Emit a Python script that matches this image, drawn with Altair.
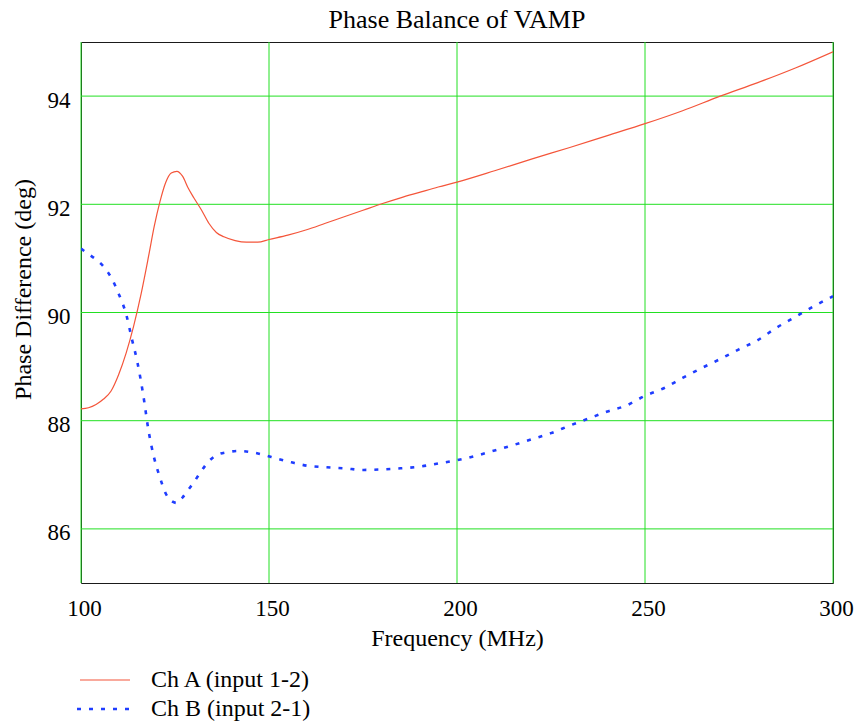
import altair as alt
import pandas as pd

# Channel A phase difference (input 1-2), degrees vs MHz
freq_a = [100, 102, 104, 106, 108, 110, 112, 114, 116, 118, 119.5, 121, 122.5, 124,
          125.5, 127, 128.5, 130, 132, 134, 136, 138, 141, 144, 147, 150, 155, 160,
          165, 170, 175, 180, 185, 190, 195, 200, 210, 220, 230, 240, 250, 260, 270,
          280, 290, 300]
phase_a = [88.22, 88.24, 88.30, 88.40, 88.55, 88.85, 89.25, 89.75, 90.35, 91.05, 91.60,
           92.05, 92.40, 92.58, 92.61, 92.52, 92.30, 92.12, 91.90, 91.65, 91.48, 91.40,
           91.33, 91.30, 91.30, 91.35, 91.43, 91.53, 91.65, 91.77, 91.89, 92.01, 92.12,
           92.22, 92.32, 92.41, 92.62, 92.84, 93.05, 93.27, 93.49, 93.73, 94.00, 94.25,
           94.52, 94.82]

# Channel B phase difference (input 2-1)
freq_b = [100, 102, 104, 106, 108, 110, 112, 113.5, 115, 116.5, 118, 119.5, 121, 122.5,
          124, 125.5, 127, 128.5, 130, 132, 134, 136, 139, 142, 146, 149, 152, 156, 160,
          165, 170, 175, 180, 185, 190, 195, 200, 205, 210, 215, 220, 225, 230, 235, 240,
          245, 250, 255, 260, 265, 270, 275, 280, 285, 290, 295, 300]
phase_b = [91.18, 91.08, 90.98, 90.85, 90.65, 90.35, 89.97, 89.52, 89.08, 88.50, 87.80,
           87.30, 86.95, 86.66, 86.52, 86.48, 86.58, 86.72, 86.86, 87.07, 87.25, 87.36,
           87.42, 87.44, 87.41, 87.36, 87.30, 87.23, 87.17, 87.14, 87.12, 87.09, 87.10,
           87.12, 87.15, 87.21, 87.27, 87.35, 87.45, 87.55, 87.66, 87.77, 87.91, 88.04,
           88.17, 88.28, 88.46, 88.60, 88.79, 88.97, 89.14, 89.32, 89.49, 89.72, 89.92,
           90.12, 90.30]

series_names = ["Ch A (input 1-2)", "Ch B (input 2-1)"]
series_colors = ["#F4553A", "#1F3DFF"]
chart_title = "Phase Balance of VAMP"

x_ticks = [100, 150, 200, 250, 300]
y_ticks = [86, 88, 90, 92, 94]

FONT = "Liberation Serif"
GRID = "#22E022"
W, H = 752, 541

df_a = pd.DataFrame({"freq": freq_a, "phase": phase_a})
df_b = pd.DataFrame({"freq": freq_b, "phase": phase_b})

x_scale = alt.Scale(domain=[100, 300], nice=False, zero=False)
y_scale = alt.Scale(domain=[85, 95], nice=False, zero=False)

x_enc = alt.X("freq:Q", title="Frequency (MHz)", scale=x_scale,
              axis=alt.Axis(values=x_ticks, format="d", grid=False, labelFlush=False,
                            ticks=False, domain=False, labelOffset=3))
y_enc = alt.Y("phase:Q", title="Phase Difference (deg)", scale=y_scale,
              axis=alt.Axis(values=y_ticks, format="d", grid=False, ticks=False,
                            domain=False, labelOffset=4, titleY=247))

# Green grid drawn at the tick positions
vgrid = alt.Chart(pd.DataFrame({"freq": x_ticks})).mark_rule(
    color=GRID, strokeWidth=1).encode(x=alt.X("freq:Q", scale=x_scale))
hgrid = alt.Chart(pd.DataFrame({"phase": y_ticks})).mark_rule(
    color=GRID, strokeWidth=1).encode(y=alt.Y("phase:Q", scale=y_scale))

line_a = alt.Chart(df_a).mark_line(
    interpolate="monotone", clip=True, color=series_colors[0], strokeWidth=1.2
).encode(x=x_enc, y=y_enc)

line_b = alt.Chart(df_b).mark_line(
    interpolate="monotone", clip=True, color=series_colors[1], strokeWidth=2.6,
    strokeDash=[4, 8]
).encode(x=x_enc, y=y_enc)

# Chart heading, centred over the plot area
head = alt.Chart(pd.DataFrame({"t": [chart_title]})).mark_text(
    align="center", baseline="alphabetic", font=FONT, fontSize=26, color="black"
).encode(x=alt.value(W / 2), y=alt.value(-14), text="t:N")

# Hand-drawn legend below the plot area
leg_a = pd.DataFrame({"series": [series_names[0]]})
leg_b = pd.DataFrame({"series": [series_names[1]]})

key_a = alt.Chart(leg_a).mark_rule(color=series_colors[0], strokeWidth=1.2).encode(
    x=alt.value(-1), x2=alt.value(49), y=alt.value(H + 97))
key_b = alt.Chart(leg_b).mark_rule(color=series_colors[1], strokeWidth=2.6,
                                   strokeDash=[4, 8]).encode(
    x=alt.value(-4), x2=alt.value(48), y=alt.value(H + 126))
txt_a = alt.Chart(leg_a).mark_text(align="left", baseline="middle", font=FONT,
                                   fontSize=24, color="black").encode(
    x=alt.value(70), y=alt.value(H + 97), text="series:N")
txt_b = alt.Chart(leg_b).mark_text(align="left", baseline="middle", font=FONT,
                                   fontSize=24, color="black").encode(
    x=alt.value(70), y=alt.value(H + 126), text="series:N")

chart = (
    alt.layer(vgrid, hgrid, line_a, line_b, head, key_a, key_b, txt_a, txt_b)
    .properties(
        width=W,
        height=H,
        autosize=alt.AutoSizeParams(type="none"),
        padding={"left": 81, "top": 42, "right": 27, "bottom": 142},
    )
    .configure_view(stroke="#1a1a1a", strokeWidth=1)
    .configure_axis(
        labelFont=FONT, labelFontSize=23, labelColor="black",
        titleFont=FONT, titleFontSize=24, titleFontWeight="normal", titleColor="black",
    )
    .configure_axisX(labelPadding=14, titlePadding=6)
    .configure_axisY(labelPadding=11, titlePadding=12)
)

chart.save("out.html", embed_options={"renderer": "svg", "actions": False})
